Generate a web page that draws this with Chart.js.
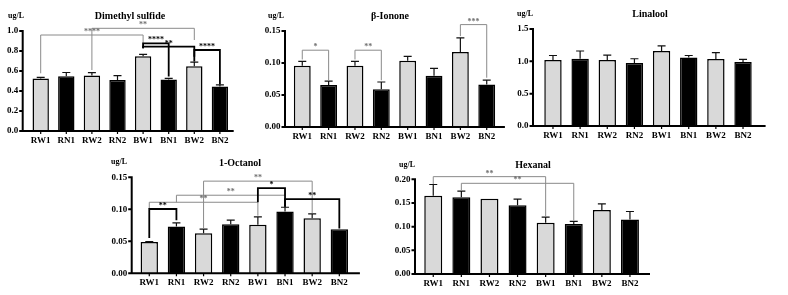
<!DOCTYPE html>
<html>
<head>
<meta charset="utf-8">
<script src="https://cdn.jsdelivr.net/npm/chart.js@4"></script>
<style>
  html, body { margin: 0; padding: 0; background: #fff; }
  body { width: 788px; height: 295px; position: relative; overflow: hidden; font-family: 'Liberation Serif', 'Times New Roman', serif; }
  canvas { position: absolute; }
  .title, .unit { position: absolute; font-weight: bold; color: #000; white-space: nowrap; }
  .title { font-size: 10px; transform: translate(-50%, -50%); }
  .unit { font-size: 8px; transform: translateY(-50%); }
</style>
</head>
<body>

<script>
// sample groups
const categories = ['RW1', 'RN1', 'RW2', 'RN2', 'BW1', 'BN1', 'BW2', 'BN2'];

// means and SD (ug/L)
const dmsMean = [0.525, 0.547, 0.555, 0.51, 0.748, 0.515, 0.648, 0.445];
const dmsErr = [0.012, 0.038, 0.028, 0.043, 0.018, 0.012, 0.04, 0.017];
const iononeMean = [0.0957, 0.0655, 0.0957, 0.0588, 0.1035, 0.080, 0.1172, 0.0664];
const iononeErr = [0.0068, 0.0063, 0.0068, 0.0115, 0.007, 0.0115, 0.022, 0.0068];
const linaloolMean = [1.02, 1.04, 1.02, 0.975, 1.16, 1.06, 1.035, 0.99];
const linaloolErr = [0.07, 0.12, 0.075, 0.065, 0.08, 0.03, 0.1, 0.04];
const octanolMean = [0.049, 0.073, 0.0625, 0.0766, 0.0758, 0.0964, 0.086, 0.069];
const octanolErr = [0.0005, 0.0058, 0.0065, 0.0065, 0.0125, 0.0068, 0.0068, 0];
const hexanalMean = [0.165, 0.162, 0.159, 0.145, 0.108, 0.1056, 0.135, 0.115];
const hexanalErr = [0.024, 0.013, 0, 0.013, 0.012, 0.0055, 0.013, 0.017];

// significance brackets: [from, to, level, legFrom, legTo, label, dark]
const dmsSig = [
  [2, 6, 1.027, 0.61, 0.91, '**', false],
  [0, 4, 0.96, 0.577, 0.853, '****', false],
  [4, 5, 0.877, 0.827, 0.546, '****', true],
  [4, 6, 0.843, 0.827, 0.743, '**', true],
  [6, 7, 0.81, 0.695, 0.464, '****', true]
];
const iononeSig = [
  [0, 1, 0.12, 0.1055, 0.073, '*', false],
  [2, 3, 0.12, 0.1055, 0.073, '**', false],
  [6, 7, 0.160, 0.142, 0.077, '***', false]
];
const linaloolSig = [];
const octanolSig = [
  [2, 6, 0.144, 0.070, 0.094, '**', false],
  [1, 5, 0.122, 0.111, 0.133, '**', false],
  [0, 4, 0.111, 0.1005, 0.090, '**', false],
  [4, 5, 0.133, 0.111, 0.104, '*', true],
  [5, 7, 0.116, 0.104, 0.070, '**', true],
  [0, 1, 0.1005, 0.055, 0.083, '**', true]
];
const hexanalSig = [
  [0, 4, 0.2056, 0.19, 0.122, '**', false],
  [1, 5, 0.1915, 0.177, 0.113, '**', false]
];

const panels = [
  { name: 'Dimethyl sulfide', mean: dmsMean, err: dmsErr, sig: dmsSig, max: 1.0, step: 0.2, dec: 1,
    cv: [0, 0, 245, 148], area: [27.9, 232.7, 31, 131], gap: 5.2, ext: 1, title: [130, 15], unit: [8, 15] },
  { name: 'β-Ionone', mean: iononeMean, err: iononeErr, sig: iononeSig, max: 0.15, step: 0.05, dec: 2,
    cv: [255, 0, 252, 148], area: [289.1, 499.9, 31, 127], gap: 4.1, ext: 5, title: [390, 15], unit: [268, 15] },
  { name: 'Linalool', mean: linaloolMean, err: linaloolErr, sig: linaloolSig, max: 1.5, step: 0.5, dec: 1,
    cv: [508, 0, 280, 148], area: [539.4, 756.6, 29, 126], gap: 6.4, ext: 9, title: [650, 13], unit: [517, 13] },
  { name: '1-Octanol', mean: octanolMean, err: octanolErr, sig: octanolSig, max: 0.15, step: 0.05, dec: 2,
    cv: [100, 148, 270, 147], area: [135.7, 352.9, 177.3, 273.3], gap: 4, ext: 7, title: [240, 162], unit: [111, 161] },
  { name: 'Hexanal', mean: hexanalMean, err: hexanalErr, sig: hexanalSig, max: 0.20, step: 0.05, dec: 2,
    cv: [385, 148, 280, 147], area: [419.2, 644, 179.3, 274], gap: 4.2, ext: 6, title: [533, 164], unit: [399, 164] }
];

const prismPlugin = {
  id: 'prism',
  afterDatasetsDraw(chart) {
    const o = chart.options.plugins.prism;
    const ctx = chart.ctx;
    const a = chart.chartArea;
    const xs = chart.scales.x, ys = chart.scales.y;
    const bars = chart.getDatasetMeta(0).data;
    ctx.save();

    // error bars (upper only)
    ctx.strokeStyle = '#111';
    ctx.lineWidth = 1.2;
    bars.forEach(function(bar, i) {
      if (!o.err[i]) return;
      const top = ys.getPixelForValue(o.mean[i] + o.err[i]);
      ctx.beginPath();
      ctx.moveTo(bar.x, bar.y);
      ctx.lineTo(bar.x, top);
      ctx.moveTo(bar.x - 4, top);
      ctx.lineTo(bar.x + 4, top);
      ctx.stroke();
    });

    // axes
    const x0 = a.left - o.gap;
    ctx.strokeStyle = '#000';
    ctx.lineWidth = 2;
    ctx.beginPath();
    ctx.moveTo(x0, a.top - 1);
    ctx.lineTo(x0, a.bottom);
    ctx.lineTo(a.right + o.ext, a.bottom);
    ys.ticks.forEach(function(t) {
      const py = ys.getPixelForValue(t.value);
      ctx.moveTo(x0 - 3.5, py);
      ctx.lineTo(x0, py);
    });
    ctx.stroke();
    ctx.lineWidth = 1.2;
    ctx.beginPath();
    bars.forEach(function(bar) {
      ctx.moveTo(bar.x, a.bottom);
      ctx.lineTo(bar.x, a.bottom + 3);
    });
    ctx.stroke();

    // significance brackets
    ctx.font = 'bold 8px "Liberation Serif", serif';
    ctx.textAlign = 'center';
    ctx.textBaseline = 'bottom';
    o.sig.forEach(function(s) {
      const xa = xs.getPixelForValue(s[0]);
      const xb = xs.getPixelForValue(s[1]);
      const yl = ys.getPixelForValue(s[2]);
      ctx.strokeStyle = s[6] ? '#000' : '#8a8a8a';
      ctx.fillStyle = s[6] ? '#000' : '#6f6f6f';
      ctx.lineWidth = s[6] ? 1.8 : 1;
      ctx.beginPath();
      ctx.moveTo(xa, ys.getPixelForValue(s[3]));
      ctx.lineTo(xa, yl);
      ctx.lineTo(xb, yl);
      ctx.lineTo(xb, ys.getPixelForValue(s[4]));
      ctx.stroke();
      ctx.fillText(s[5], (xa + xb) / 2, yl + 1);
    });
    ctx.restore();
  }
};

panels.forEach(function(p) {
  const canvas = document.createElement('canvas');
  canvas.style.left = p.cv[0] + 'px';
  canvas.style.top = p.cv[1] + 'px';
  canvas.style.width = p.cv[2] + 'px';
  canvas.style.height = p.cv[3] + 'px';
  canvas.width = p.cv[2];
  canvas.height = p.cv[3];
  document.body.appendChild(canvas);

  const t = document.createElement('div');
  t.className = 'title';
  t.textContent = p.name;
  t.style.left = p.title[0] + 'px';
  t.style.top = p.title[1] + 'px';
  document.body.appendChild(t);

  const u = document.createElement('div');
  u.className = 'unit';
  u.textContent = 'ug/L';
  u.style.left = p.unit[0] + 'px';
  u.style.top = p.unit[1] + 'px';
  document.body.appendChild(u);

  const yWidth = p.area[0] - p.cv[0];
  const xHeight = p.cv[1] + p.cv[3] - p.area[3];
  const tickFont = { family: "'Liberation Serif', serif", size: 9, weight: 'bold' };

  new Chart(canvas, {
    type: 'bar',
    data: {
      labels: categories,
      datasets: [{
        data: p.mean,
        backgroundColor: categories.map(c => c.indexOf('W') > 0 ? '#d9d9d9' : '#000'),
        borderColor: '#000',
        borderWidth: 1.5,
        barPercentage: 0.64,
        categoryPercentage: 1
      }]
    },
    options: {
      responsive: false,
      animation: false,
      events: [],
      layout: { padding: { left: 0, bottom: 0, top: p.area[2] - p.cv[1], right: p.cv[0] + p.cv[2] - p.area[1] } },
      plugins: {
        legend: { display: false },
        tooltip: { enabled: false },
        prism: { mean: p.mean, err: p.err, sig: p.sig, gap: p.gap, ext: p.ext }
      },
      scales: {
        x: {
          grid: { display: false, drawTicks: false },
          border: { display: false },
          ticks: { color: '#000', font: tickFont, padding: 4, maxRotation: 0, autoSkip: false },
          afterFit: function(s) { s.height = xHeight; }
        },
        y: {
          min: 0,
          max: p.max,
          grid: { display: false, drawTicks: false },
          border: { display: false },
          ticks: {
            stepSize: p.step,
            color: '#000',
            font: tickFont,
            padding: p.gap + 4.5,
            callback: v => Number(v).toFixed(p.dec)
          },
          afterFit: function(s) { s.width = yWidth; }
        }
      }
    },
    plugins: [prismPlugin]
  });
});
</script>
</body>
</html>
